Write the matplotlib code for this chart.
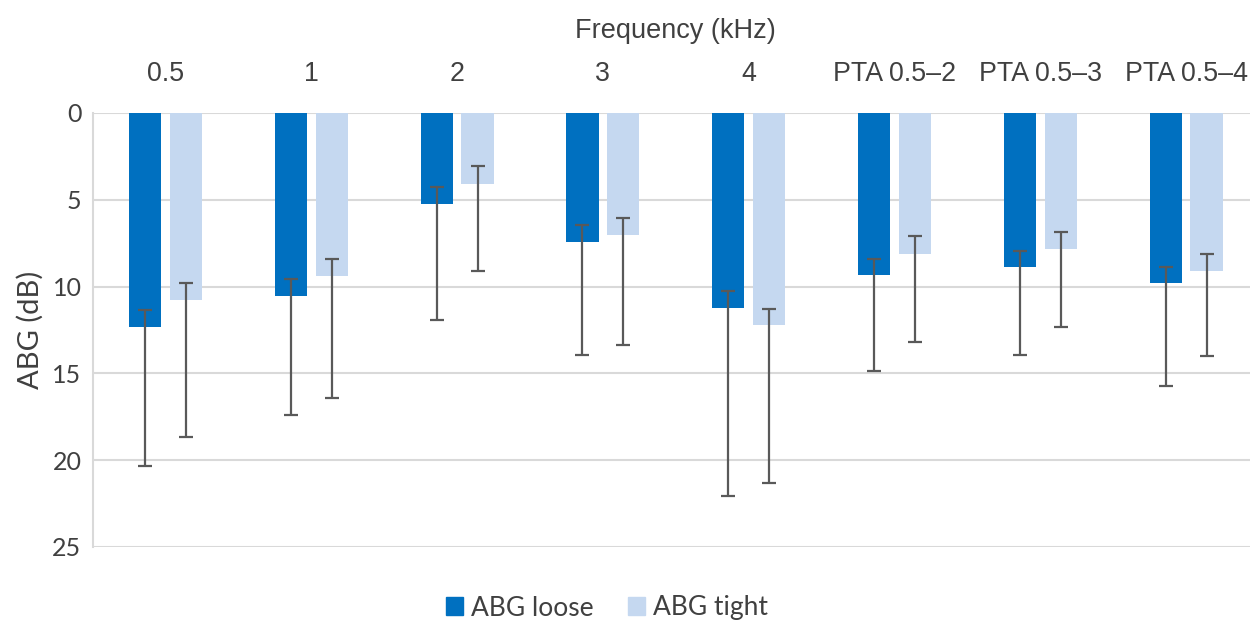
import matplotlib
matplotlib.use("Agg")
import matplotlib.pyplot as plt
import numpy as np
from matplotlib.patches import Patch

categories = ["0.5", "1", "2", "3", "4", "PTA 0.5–2", "PTA 0.5–3", "PTA 0.5–4"]
loose = [12.3, 10.55, 5.23, 7.41, 11.23, 9.35, 8.89, 9.81]
tight = [10.77, 9.39, 4.08, 7.02, 12.21, 8.10, 7.83, 9.10]
# error bar ends (top cap, bottom cap)
loose_err_top = [11.35, 9.54, 4.27, 6.44, 10.27, 8.39, 7.93, 8.89]
loose_err_bot = [20.33, 17.41, 11.93, 13.95, 22.08, 14.85, 13.95, 15.72]
tight_err_top = [9.81, 8.43, 3.08, 6.04, 11.27, 7.10, 6.87, 8.14]
tight_err_bot = [18.66, 16.41, 9.12, 13.37, 21.29, 13.18, 12.31, 13.99]

c_loose = "#0070C0"
c_tight = "#C5D8F0"
c_err = "#595959"
txt = "#404040"
font_top = ["Liberation Sans", "DejaVu Sans"]
font_cal = ["Lato", "DejaVu Sans"]

fig = plt.figure(figsize=(12.5, 6.23), dpi=100)
ax = fig.add_axes([92.6/1250, 1-547/623, 1166.4/1250, (547-113)/623])

x = np.arange(len(categories))
w = 0.22
off = 0.14
lo = np.array(loose); ti = np.array(tight)
ax.bar(x - off, lo, w, color=c_loose, zorder=2)
ax.bar(x + off, ti, w, color=c_tight, zorder=2)
ax.errorbar(x - off, lo, yerr=[lo - np.array(loose_err_top), np.array(loose_err_bot) - lo],
            fmt="none", ecolor=c_err, elinewidth=1.6, capsize=5, capthick=1.6, zorder=3)
ax.errorbar(x + off, ti, yerr=[ti - np.array(tight_err_top), np.array(tight_err_bot) - ti],
            fmt="none", ecolor=c_err, elinewidth=1.6, capsize=5, capthick=1.6, zorder=3)

ax.set_xlim(-0.5, len(categories) - 0.5)
ax.set_ylim(25, 0)
ax.set_yticks([0, 5, 10, 15, 20, 25])
ax.yaxis.grid(True, color="#D9D9D9", linewidth=1.5, zorder=0)
ax.set_axisbelow(True)
for s in ["top", "right", "bottom"]:
    ax.spines[s].set_visible(False)
ax.spines["left"].set_color("#D9D9D9")
ax.spines["left"].set_linewidth(1.5)

ax.xaxis.tick_top()
ax.set_xticks(x)
ax.set_xticklabels(categories, fontsize=19.3, color=txt, family=font_top)
ax.tick_params(axis="x", length=0, pad=19)
ax.tick_params(axis="y", length=0, pad=8, labelsize=18, labelcolor=txt)
for t in ax.get_yticklabels():
    t.set_family(font_cal)
ax.xaxis.set_label_position("top")
ax.set_xlabel("Frequency (kHz)", fontsize=19.5, color=txt, family=font_top, labelpad=16)
ax.set_ylabel("ABG (dB)", fontsize=21, color=txt, family=font_cal, labelpad=6)

handles = [Patch(color=c_loose, label="ABG loose"), Patch(color=c_tight, label="ABG tight")]
fig.legend(handles=handles, loc="center", bbox_to_anchor=(607/1250, 1-608/623), ncol=2,
           frameon=False, prop={"family": font_cal, "size": 19},
           handlelength=0.65, handleheight=0.65, handletextpad=0.3, columnspacing=1.3, labelcolor=txt)

fig.savefig("out.png", dpi=100)
